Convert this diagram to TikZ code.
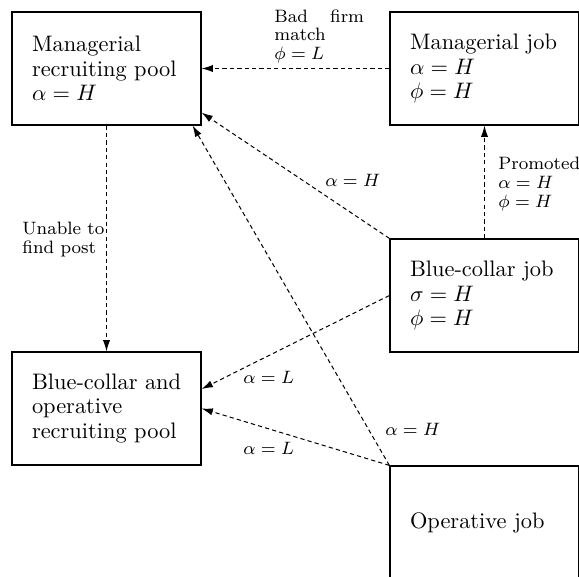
\documentclass[tikz,border=0pt]{standalone}
\usetikzlibrary{arrows.meta,calc}
\tikzset{
  box/.style={draw, line width=0.55pt, minimum width=84.37pt, minimum height=50.44pt,
    text width=66.5pt, inner xsep=8.93pt, inner ysep=0pt, align=left,
    font=\fontsize{10}{11}\selectfont},
  arr/.style={line width=0.45pt, dash pattern=on 1.9pt off 1.4pt,
    -{Latex[length=5pt,width=3.2pt]}},
  lbl/.style={inner sep=0pt, font=\fontsize{8}{8.3}\selectfont, align=left}
}
\begin{document}
\begin{tikzpicture}[x=0.4464pt,y=-0.4464pt]
\useasboundingbox (0,0) rectangle (579,577);
\node[box] (MRP) at (106.5,68.5) {Managerial\\recruiting pool\\$\alpha=H$};
\node[box] (MJ) at (484.5,68.5) {Managerial job\\$\alpha=H$\\$\phi=H$};
\node[box] (BCJ) at (484.5,295.5) {Blue-collar job\\$\sigma=H$\\$\phi=H$};
\node[box] (BCORP) at (106.5,408.5) {\mbox{Blue-collar and}\\operative\\recruiting pool};
\node[box] (OJ) at (484.5,522.5) {Operative job};

\draw[arr] (MJ.west) -- (MRP.east);
\draw[arr] (BCJ.north west) -- ($(MRP.south east)+(0,-13)$);
\draw[arr] (OJ.north west) -- ($(MRP.south east)+(-9,0)$);
\draw[arr] (MRP.south) -- (BCORP.north);
\draw[arr] (BCJ.west) -- ($(BCORP.east)+(0,-19.5)$);
\draw[arr] (OJ.north west) -- (BCORP.east);
\draw[arr] (BCJ.north) -- (MJ.south);

\node[lbl, anchor=north west, text width=40pt] (lbad) at (274,9) {Bad\hfill firm\\match\\$\phi=L$};
\node[lbl, anchor=north west] (lprom) at (498,157) {Promoted\\$\alpha=H$\\$\phi=H$};
\node[lbl, anchor=north west] (lunable) at (22,222) {Unable to\\find post};
\node[lbl, anchor=west] (l1) at (325,180) {$\alpha=H$};
\node[lbl, anchor=west] (l2) at (243,377) {$\alpha=L$};
\node[lbl, anchor=west] (l3) at (243,448) {$\alpha=L$};
\node[lbl, anchor=west] (l4) at (385,429) {$\alpha=H$};
\end{tikzpicture}
\end{document}
